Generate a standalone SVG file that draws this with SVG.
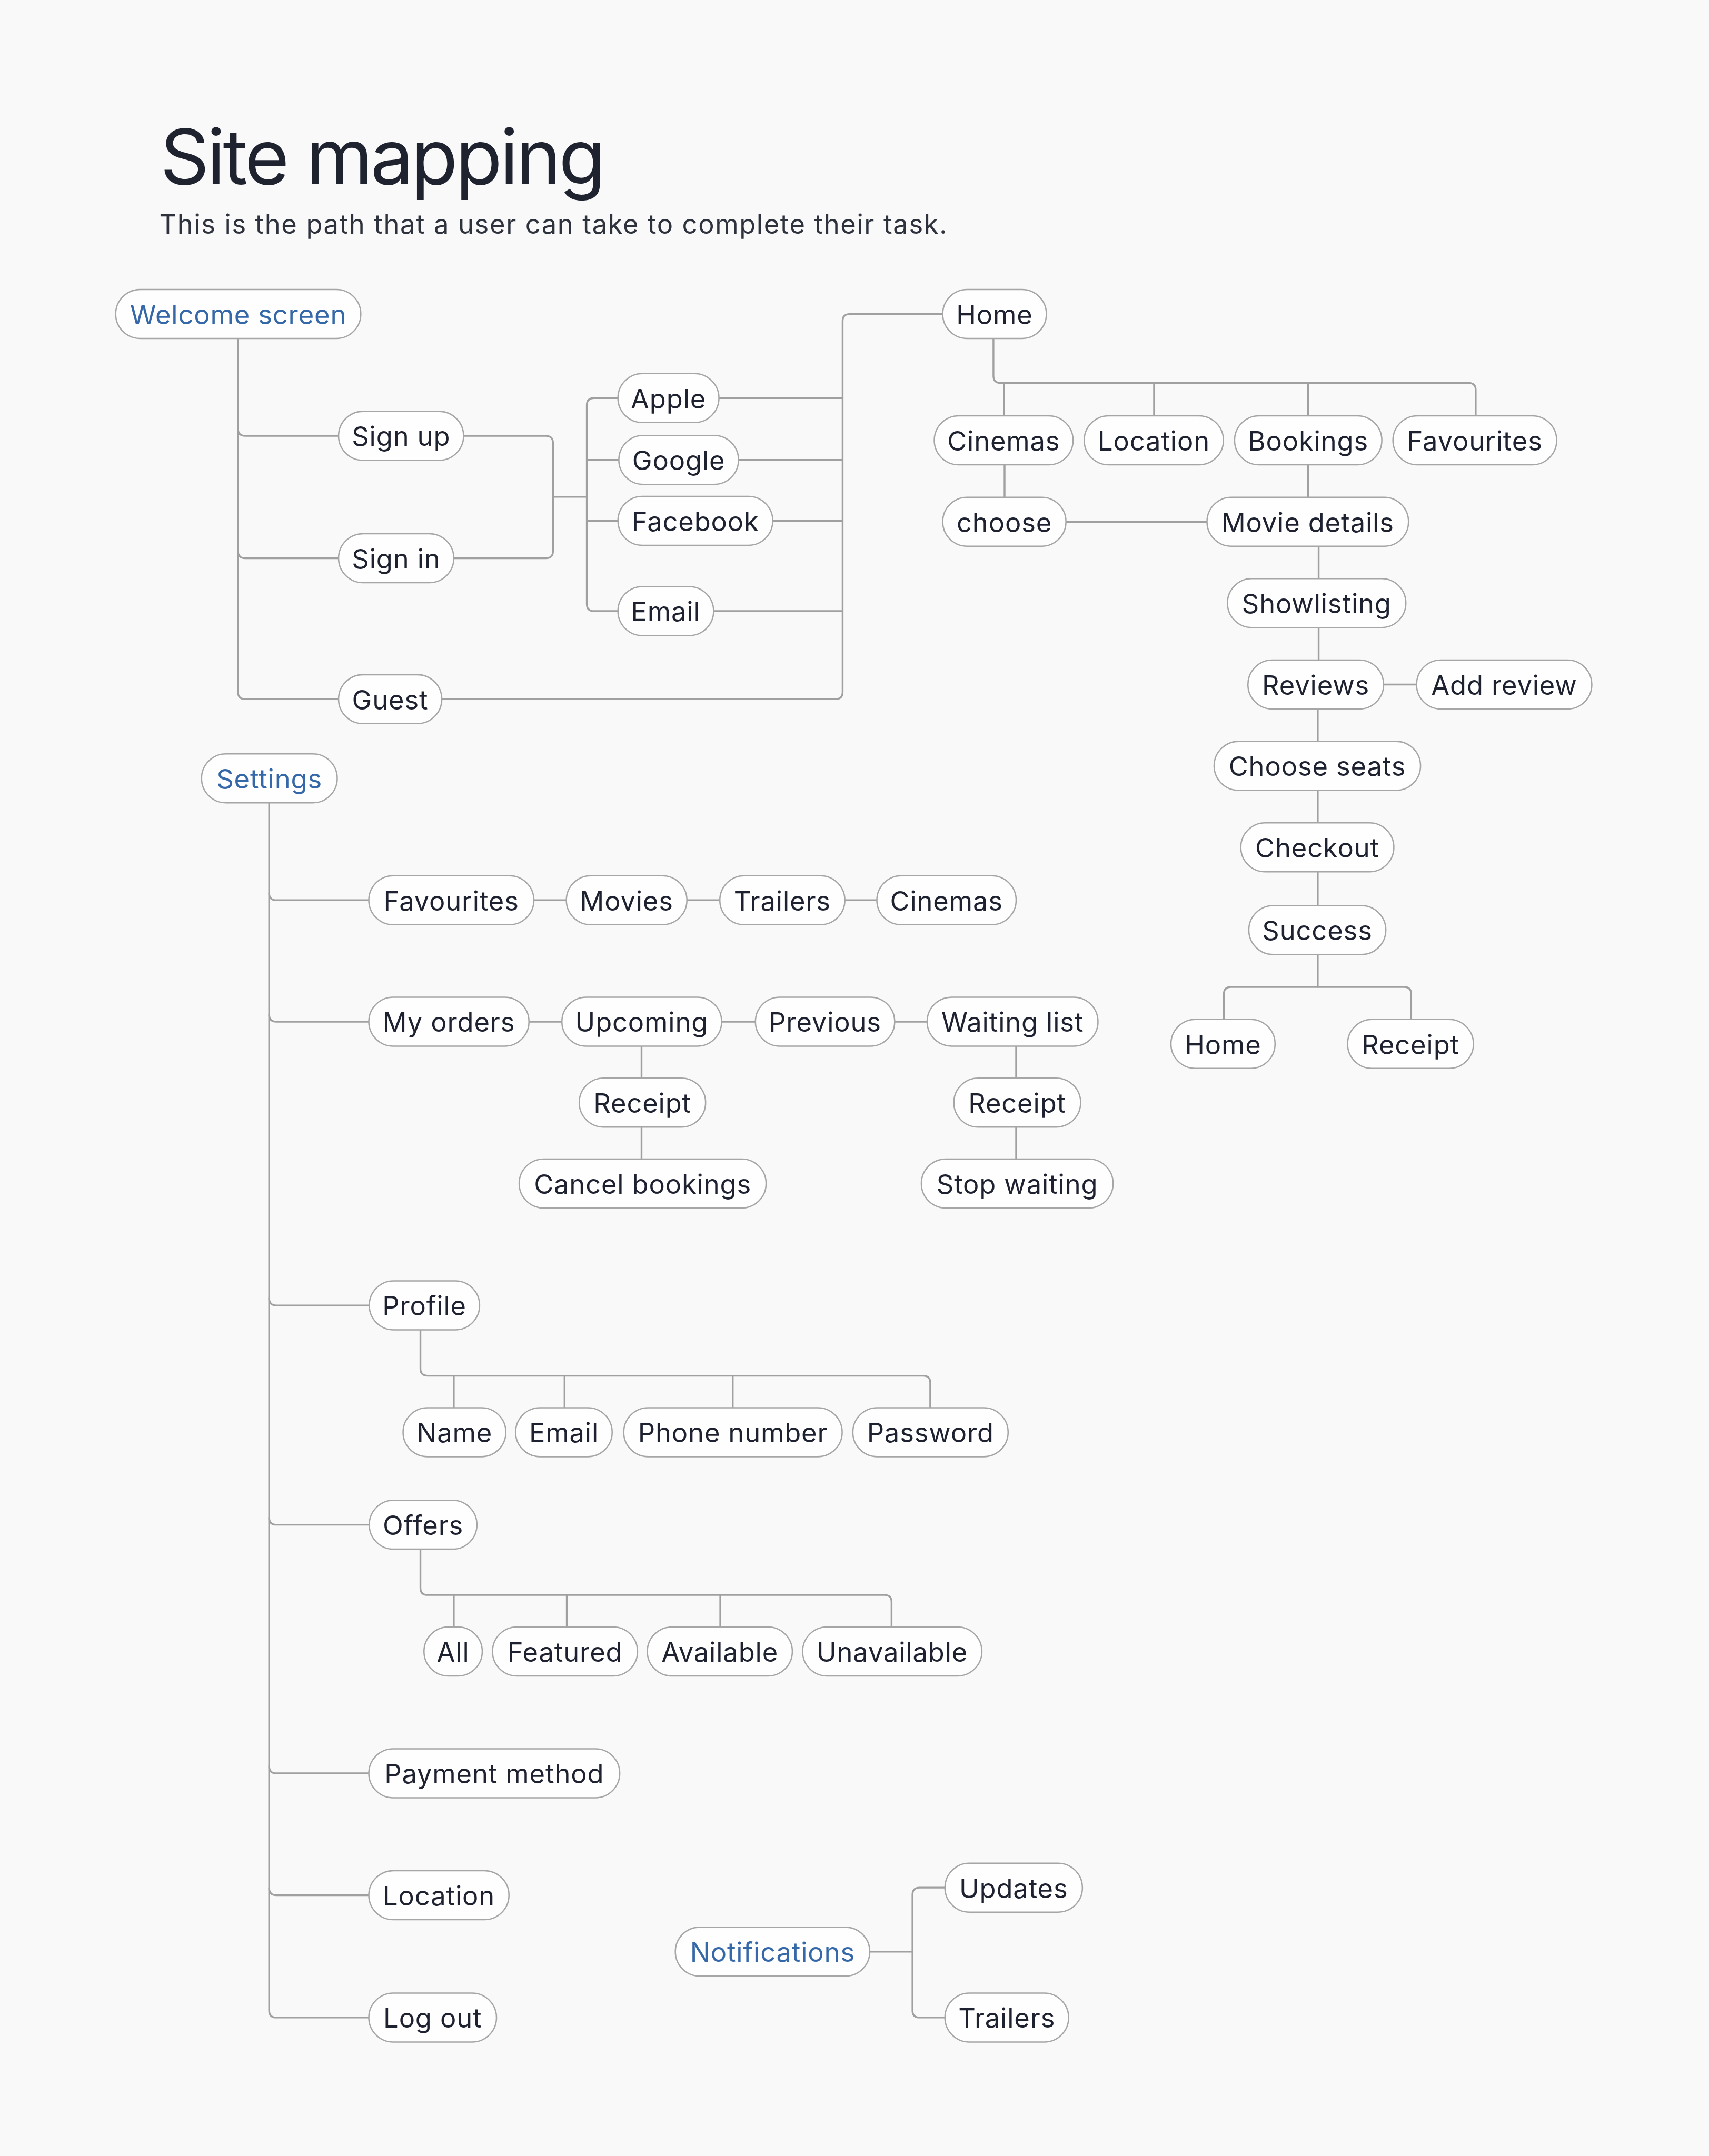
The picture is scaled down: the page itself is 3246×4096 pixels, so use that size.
<svg xmlns="http://www.w3.org/2000/svg" width="3246" height="4096" viewBox="0 0 3246 4096">
<style>
.bg{fill:#f9f9f9}
.pill{fill:#fefefe;stroke:#a6a6a6;stroke-width:3}
.t{font-family:Inter,"Noto Sans","Liberation Sans",sans-serif;font-size:60px;fill:#1e2230;text-anchor:middle;dominant-baseline:central;letter-spacing:1px}
.b{fill:#3568a8}
.c path{fill:none;stroke:#a0a0a0;stroke-width:4;stroke-linecap:round;stroke-linejoin:round}
.title{font-family:Inter,"Noto Sans","Liberation Sans",sans-serif;font-size:172px;fill:#1f2330;letter-spacing:-5.5px}
.sub{font-family:Inter,"Noto Sans","Liberation Sans",sans-serif;font-size:60px;fill:#2e323c;letter-spacing:1.9px}
</style>
<rect class="bg" x="0" y="0" width="3246" height="4096"/>
<g transform="scale(0.845)">
<g id="header">
<text class="title" x="360" y="414">Site mapping</text>
<text class="sub" x="358" y="526">This is the path that a user can take to complete their task.</text>
</g>
<g id="connectors" class="c">
<path d="M535,761 V1556 Q535,1572 551,1572 H761"/>
<path d="M535,964 Q535,980 551,980 H761"/>
<path d="M535,1239 Q535,1255 551,1255 H761"/>
<path d="M1042,980 H1227 Q1243,980 1243,996 V1239 Q1243,1255 1227,1255 H1020"/>
<path d="M1243,1117 H1319"/>
<path d="M1389,895 H1335 Q1319,895 1319,911 V1358 Q1319,1374 1335,1374 H1389"/>
<path d="M1319,1034 H1391"/>
<path d="M1319,1171 H1389"/>
<path d="M1616,895 H1894"/>
<path d="M1660,1034 H1894"/>
<path d="M1737,1171 H1894"/>
<path d="M1604,1374 H1894"/>
<path d="M993,1572 H1878 Q1894,1572 1894,1556 V722 Q1894,706 1910,706 H2119"/>
<path d="M2233,761 V845 Q2233,861 2249,861 H3301 Q3317,861 3317,877 V935"/>
<path d="M2257,861 V935"/>
<path d="M2594,861 V935"/>
<path d="M2940,861 V935"/>
<path d="M2258,1045 V1118"/>
<path d="M2396,1173 H2713"/>
<path d="M2940,1045 V1118"/>
<path d="M2964,1228 V1301"/>
<path d="M2964,1411 V1484"/>
<path d="M3110,1539 H3184"/>
<path d="M2962,1594 V1667"/>
<path d="M2962,1777 V1850"/>
<path d="M2962,1960 V2036"/>
<path d="M2962,2146 V2219"/>
<path d="M2751,2292 V2235 Q2751,2219 2767,2219 H3156 Q3172,2219 3172,2235 V2292"/>
<path d="M605,1804 V4520 Q605,4536 621,4536 H829"/>
<path d="M605,2008 Q605,2024 621,2024 H829"/>
<path d="M605,2281 Q605,2297 621,2297 H829"/>
<path d="M605,2919 Q605,2935 621,2935 H830"/>
<path d="M605,3412 Q605,3428 621,3428 H830"/>
<path d="M605,3971 Q605,3987 621,3987 H829"/>
<path d="M605,4245 Q605,4261 621,4261 H829"/>
<path d="M1200,2024 H1273"/>
<path d="M1544,2024 H1618"/>
<path d="M1899,2024 H1971"/>
<path d="M1189,2297 H1263"/>
<path d="M1622,2297 H1698"/>
<path d="M2011,2297 H2084"/>
<path d="M1442,2352 V2423"/>
<path d="M1442,2534 V2606"/>
<path d="M2284,2352 V2423"/>
<path d="M2284,2534 V2606"/>
<path d="M945,2990 V3077 Q945,3093 961,3093 H2075 Q2091,3093 2091,3109 V3165"/>
<path d="M1020,3093 V3165"/>
<path d="M1269,3093 V3165"/>
<path d="M1647,3093 V3165"/>
<path d="M945,3483 V3570 Q945,3586 961,3586 H1988 Q2004,3586 2004,3602 V3658"/>
<path d="M1020,3586 V3658"/>
<path d="M1274,3586 V3658"/>
<path d="M1619,3586 V3658"/>
<path d="M1955,4388 H2051"/>
<path d="M2124,4244 H2067 Q2051,4244 2051,4260 V4520 Q2051,4536 2067,4536 H2124"/>
</g>
<g id="n-welcome"><rect class="pill" x="260" y="651" width="551" height="110" rx="55"/><text class="t b" x="535.5" y="707">Welcome screen</text></g>
<g id="n-home"><rect class="pill" x="2119" y="651" width="233" height="110" rx="55"/><text class="t" x="2235.5" y="707">Home</text></g>
<g id="n-signup"><rect class="pill" x="761" y="925" width="281" height="110" rx="55"/><text class="t" x="901.5" y="981">Sign up</text></g>
<g id="n-signin"><rect class="pill" x="761" y="1200" width="259" height="110" rx="55"/><text class="t" x="890.5" y="1256">Sign in</text></g>
<g id="n-guest"><rect class="pill" x="761" y="1517" width="232" height="110" rx="55"/><text class="t" x="877" y="1573">Guest</text></g>
<g id="n-apple"><rect class="pill" x="1389" y="840" width="227" height="110" rx="55"/><text class="t" x="1502.5" y="896">Apple</text></g>
<g id="n-google"><rect class="pill" x="1391" y="979" width="269" height="110" rx="55"/><text class="t" x="1525.5" y="1035">Google</text></g>
<g id="n-facebook"><rect class="pill" x="1389" y="1116" width="348" height="110" rx="55"/><text class="t" x="1563" y="1172">Facebook</text></g>
<g id="n-email"><rect class="pill" x="1389" y="1319" width="215" height="110" rx="55"/><text class="t" x="1496.5" y="1375">Email</text></g>
<g id="n-cinemas"><rect class="pill" x="2100" y="935" width="312" height="110" rx="55"/><text class="t" x="2256" y="991">Cinemas</text></g>
<g id="n-location"><rect class="pill" x="2437" y="935" width="313" height="110" rx="55"/><text class="t" x="2593.5" y="991">Location</text></g>
<g id="n-bookings"><rect class="pill" x="2775" y="935" width="331" height="110" rx="55"/><text class="t" x="2940.5" y="991">Bookings</text></g>
<g id="n-favourites"><rect class="pill" x="3131" y="935" width="368" height="110" rx="55"/><text class="t" x="3315" y="991">Favourites</text></g>
<g id="n-choose"><rect class="pill" x="2119" y="1118" width="277" height="110" rx="55"/><text class="t" x="2257.5" y="1174">choose</text></g>
<g id="n-moviedetails"><rect class="pill" x="2713" y="1118" width="453" height="110" rx="55"/><text class="t" x="2939.5" y="1174">Movie details</text></g>
<g id="n-showlisting"><rect class="pill" x="2759" y="1301" width="401" height="110" rx="55"/><text class="t" x="2959.5" y="1357">Showlisting</text></g>
<g id="n-reviews"><rect class="pill" x="2805" y="1484" width="305" height="110" rx="55"/><text class="t" x="2957.5" y="1540">Reviews</text></g>
<g id="n-addreview"><rect class="pill" x="3184" y="1484" width="394" height="110" rx="55"/><text class="t" x="3381" y="1540">Add review</text></g>
<g id="n-chooseseats"><rect class="pill" x="2729" y="1667" width="464" height="110" rx="55"/><text class="t" x="2961" y="1723">Choose seats</text></g>
<g id="n-checkout"><rect class="pill" x="2789" y="1850" width="344" height="110" rx="55"/><text class="t" x="2961" y="1906">Checkout</text></g>
<g id="n-success"><rect class="pill" x="2807" y="2036" width="308" height="110" rx="55"/><text class="t" x="2961" y="2092">Success</text></g>
<g id="n-home2"><rect class="pill" x="2632" y="2292" width="234" height="110" rx="55"/><text class="t" x="2749" y="2348">Home</text></g>
<g id="n-receipt"><rect class="pill" x="3029" y="2292" width="283" height="110" rx="55"/><text class="t" x="3170.5" y="2348">Receipt</text></g>
<g id="n-settings"><rect class="pill" x="453" y="1695" width="305" height="110" rx="55"/><text class="t b" x="605.5" y="1751">Settings</text></g>
<g id="n-s-favourites"><rect class="pill" x="829" y="1969" width="371" height="110" rx="55"/><text class="t" x="1014.5" y="2025">Favourites</text></g>
<g id="n-s-movies"><rect class="pill" x="1273" y="1969" width="271" height="110" rx="55"/><text class="t" x="1408.5" y="2025">Movies</text></g>
<g id="n-s-trailers"><rect class="pill" x="1618" y="1969" width="281" height="110" rx="55"/><text class="t" x="1758.5" y="2025">Trailers</text></g>
<g id="n-s-cinemas"><rect class="pill" x="1971" y="1969" width="313" height="110" rx="55"/><text class="t" x="2127.5" y="2025">Cinemas</text></g>
<g id="n-myorders"><rect class="pill" x="829" y="2242" width="360" height="110" rx="55"/><text class="t" x="1009" y="2298">My orders</text></g>
<g id="n-upcoming"><rect class="pill" x="1263" y="2242" width="359" height="110" rx="55"/><text class="t" x="1442.5" y="2298">Upcoming</text></g>
<g id="n-previous"><rect class="pill" x="1698" y="2242" width="313" height="110" rx="55"/><text class="t" x="1854.5" y="2298">Previous</text></g>
<g id="n-waitinglist"><rect class="pill" x="2084" y="2242" width="384" height="110" rx="55"/><text class="t" x="2276" y="2298">Waiting list</text></g>
<g id="n-receipt1"><rect class="pill" x="1302" y="2424" width="284" height="110" rx="55"/><text class="t" x="1444" y="2480">Receipt</text></g>
<g id="n-cancel"><rect class="pill" x="1167" y="2606" width="555" height="110" rx="55"/><text class="t" x="1444.5" y="2662">Cancel bookings</text></g>
<g id="n-receipt2"><rect class="pill" x="2144" y="2424" width="285" height="110" rx="55"/><text class="t" x="2286.5" y="2480">Receipt</text></g>
<g id="n-stopwaiting"><rect class="pill" x="2071" y="2606" width="431" height="110" rx="55"/><text class="t" x="2286.5" y="2662">Stop waiting</text></g>
<g id="n-profile"><rect class="pill" x="830" y="2880" width="248" height="110" rx="55"/><text class="t" x="954" y="2936">Profile</text></g>
<g id="n-name"><rect class="pill" x="906" y="3165" width="231" height="110" rx="55"/><text class="t" x="1021.5" y="3221">Name</text></g>
<g id="n-p-email"><rect class="pill" x="1159" y="3165" width="217" height="110" rx="55"/><text class="t" x="1267.5" y="3221">Email</text></g>
<g id="n-phone"><rect class="pill" x="1402" y="3165" width="491" height="110" rx="55"/><text class="t" x="1647.5" y="3221">Phone number</text></g>
<g id="n-password"><rect class="pill" x="1917" y="3165" width="349" height="110" rx="55"/><text class="t" x="2091.5" y="3221">Password</text></g>
<g id="n-offers"><rect class="pill" x="830" y="3373" width="242" height="110" rx="55"/><text class="t" x="951" y="3429">Offers</text></g>
<g id="n-all"><rect class="pill" x="953" y="3658" width="131" height="110" rx="55"/><text class="t" x="1018.5" y="3714">All</text></g>
<g id="n-featured"><rect class="pill" x="1107" y="3658" width="326" height="110" rx="55"/><text class="t" x="1270" y="3714">Featured</text></g>
<g id="n-available"><rect class="pill" x="1455" y="3658" width="326" height="110" rx="55"/><text class="t" x="1618" y="3714">Available</text></g>
<g id="n-unavailable"><rect class="pill" x="1804" y="3658" width="403" height="110" rx="55"/><text class="t" x="2005.5" y="3714">Unavailable</text></g>
<g id="n-payment"><rect class="pill" x="829" y="3932" width="564" height="110" rx="55"/><text class="t" x="1111" y="3988">Payment method</text></g>
<g id="n-s-location"><rect class="pill" x="829" y="4206" width="315" height="110" rx="55"/><text class="t" x="986.5" y="4262">Location</text></g>
<g id="n-logout"><rect class="pill" x="829" y="4481" width="287" height="110" rx="55"/><text class="t" x="972.5" y="4537">Log out</text></g>
<g id="n-notifications"><rect class="pill" x="1518" y="4333" width="437" height="110" rx="55"/><text class="t b" x="1736.5" y="4389">Notifications</text></g>
<g id="n-updates"><rect class="pill" x="2124" y="4189" width="309" height="110" rx="55"/><text class="t" x="2278.5" y="4245">Updates</text></g>
<g id="n-n-trailers"><rect class="pill" x="2124" y="4481" width="278" height="110" rx="55"/><text class="t" x="2263" y="4537">Trailers</text></g>
</g>
</svg>
